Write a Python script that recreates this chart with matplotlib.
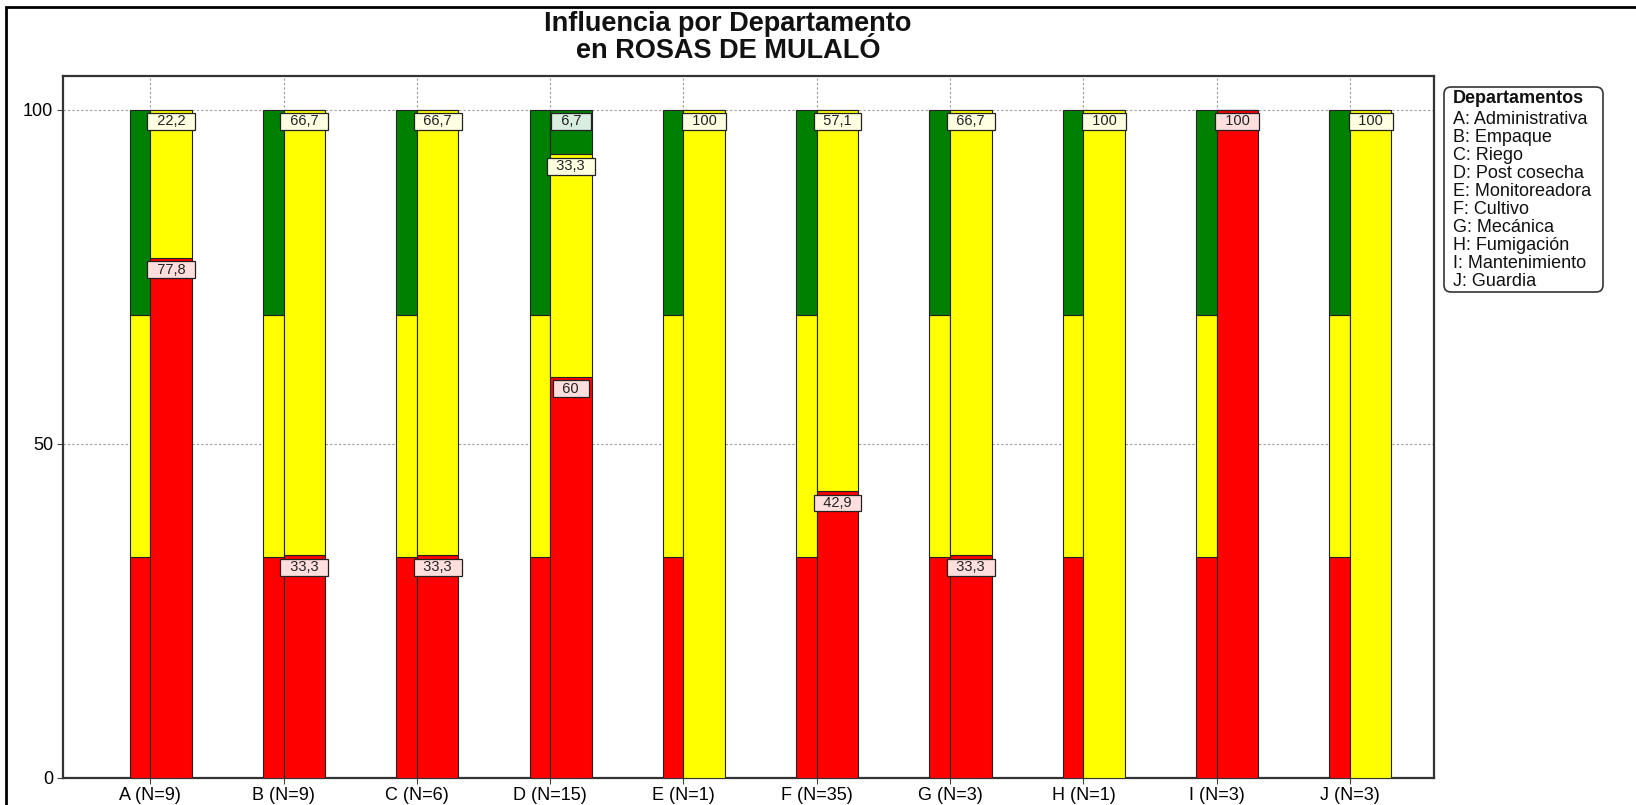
import matplotlib.pyplot as plt
from matplotlib.patches import FancyBboxPatch, Rectangle

plt.rcParams['font.family'] = ['Liberation Sans', 'DejaVu Sans']

categories = ['A (N=9)', 'B (N=9)', 'C (N=6)', 'D (N=15)', 'E (N=1)',
              'F (N=35)', 'G (N=3)', 'H (N=1)', 'I (N=3)', 'J (N=3)']
red = [77.8, 33.3, 33.3, 60.0, 0, 42.9, 33.3, 0, 100.0, 0]
yellow = [22.2, 66.7, 66.7, 33.3, 100.0, 57.1, 66.7, 100.0, 0, 100.0]
green = [0, 0, 0, 6.7, 0, 0, 0, 0, 0, 0]
# thin reference bar, same for every department
ref_red = 33.1
ref_yellow = 36.1
ref_green = 30.8

legend_title = 'Departamentos'
legend_items = ['A: Administrativa', 'B: Empaque', 'C: Riego', 'D: Post cosecha',
                'E: Monitoreadora', 'F: Cultivo', 'G: Mecánica', 'H: Fumigación',
                'I: Mantenimiento', 'J: Guardia']

RED, YEL, GRN = '#ff0000', '#ffff00', '#008000'
BOX = {RED: '#ffdede', YEL: '#ffffe2', GRN: '#d8efdf'}

fig = plt.figure(figsize=(16.36, 8.05), dpi=100)
ax = fig.add_axes([0.0385, 0.0339, 0.838, 0.8714])

x = list(range(len(categories)))
w_thin, w_wide = 0.155, 0.311
edge = dict(edgecolor='#222222', linewidth=0.8, zorder=3)

# reference bars
ax.bar([i - w_thin for i in x], [ref_red] * len(x), w_thin, align='edge', color=RED, **edge)
ax.bar([i - w_thin for i in x], [ref_yellow] * len(x), w_thin, bottom=ref_red,
       align='edge', color=YEL, **edge)
ax.bar([i - w_thin for i in x], [ref_green] * len(x), w_thin, bottom=ref_red + ref_yellow,
       align='edge', color=GRN, **edge)

# department bars
bottom = [0] * len(x)
for vals, col in [(red, RED), (yellow, YEL), (green, GRN)]:
    ax.bar(x, vals, w_wide, bottom=bottom, align='edge', color=col, **edge)
    for i, v in enumerate(vals):
        if v > 0:
            top = bottom[i] + v
            lab = ('%g' % v).replace('.', ',')
            ax.annotate('  ' + lab + '  ', (i + w_wide / 2, top), xytext=(0, -3.5),
                        textcoords='offset points', ha='center', va='top',
                        fontsize=10.5, color='#222222', zorder=5,
                        bbox=dict(boxstyle='square,pad=0.1', fc=BOX[col],
                                  ec='#222222', lw=0.9))
    bottom = [b + v for b, v in zip(bottom, vals)]

ax.set_xlim(-0.655, 9.63)
ax.set_ylim(0, 105)
ax.set_xticks(x)
ax.set_xticklabels(categories, fontsize=13)
ax.set_yticks([0, 50, 100])
ax.set_yticklabels(['0', '50', '100'], fontsize=13)
ax.tick_params(axis='both', length=4, width=0.8, color='#444444', pad=3)
ax.grid(True, color='#999999', linestyle=(0, (2, 2)), linewidth=0.8, zorder=0)
ax.set_axisbelow(True)
for s in ax.spines.values():
    s.set_linewidth(1.6)
    s.set_color('#333333')

# titles
fig.text(0.445, 1 - 24 / 805, 'Influencia por Departamento', ha='center', va='center',
         fontsize=19.5, fontweight='bold', color='#111111')
fig.text(0.445, 1 - 51 / 805, 'en ROSAS DE MULALÓ', ha='center', va='center',
         fontsize=19.5, fontweight='bold', color='#111111')

# legend box (pixel positions converted to inches)
inch = fig.dpi_scale_trans
fig.patches.append(FancyBboxPatch((14.44, (805 - 292) / 100), 1.59, 2.05,
                                  boxstyle='round,pad=0,rounding_size=0.07',
                                  transform=inch, fc='white', ec='#333333', lw=1.2))
fig.text(14.53, (805 - 98) / 100, legend_title, transform=inch, ha='left', va='center',
         fontsize=13, fontweight='bold', color='#111111')
for k, item in enumerate(legend_items):
    fig.text(14.53, (805 - 119 - k * 18.05) / 100, item, transform=inch, ha='left',
             va='center', fontsize=13, color='#111111')

# outer frame (right and bottom edges fall outside the picture)
fig.patches.append(Rectangle((0.06, -0.1), 16.5, 8.08, transform=inch,
                             fill=False, ec='black', lw=2))

fig.savefig('out.png', dpi=100)
